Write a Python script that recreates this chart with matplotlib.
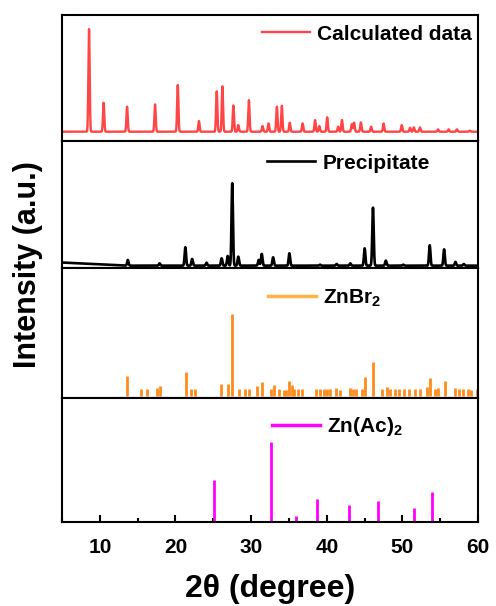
import matplotlib
matplotlib.use('Agg')
import matplotlib.pyplot as plt
from matplotlib.ticker import MultipleLocator
import numpy as np

plt.rcParams['font.family'] = ['Liberation Sans', 'DejaVu Sans']
plt.rcParams['font.weight'] = 'bold'
plt.rcParams['mathtext.fontset'] = 'custom'
plt.rcParams['mathtext.rm'] = 'Liberation Sans:bold'
plt.rcParams['mathtext.bf'] = 'Liberation Sans:bold'

# calculated pattern: peak positions (2theta) and relative intensities
calc_pos = [8.57, 10.5, 13.6, 17.3, 20.3, 23.1, 25.45, 26.2, 27.65, 28.3, 29.7,
            31.5, 32.3, 33.4, 34.05, 35.1, 36.8, 38.45, 39.0, 40.05, 41.5, 42.0,
            43.3, 43.6, 44.5, 45.85, 47.5, 49.9, 51.0, 51.5, 52.3, 54.7, 56.1,
            57.2, 58.9]
calc_int = [100, 28.2, 24.4, 26.6, 45.5, 10.4, 39.3, 44.2, 25.6, 6.5, 30.8,
            5.5, 8.1, 24.4, 25.3, 8.8, 8.1, 11.4, 5.5, 14.0, 4.9, 11.4,
            7.5, 8.8, 9.1, 4.9, 8.1, 6.5, 3.9, 4.2, 4.2, 2.3, 2.3,
            2.3, 1.0]

# measured precipitate: peaks plus a small low-angle background
prec_pos = [13.7, 17.9, 21.3, 22.2, 24.1, 26.1, 26.9, 27.5, 28.3, 31.0, 31.4,
            32.9, 35.05, 39.1, 41.3, 43.1, 45.0, 46.1, 47.8, 50.1, 53.6, 55.5,
            57.0, 58.1]
prec_int = [6.9, 2.8, 22.3, 8.1, 3.6, 8.9, 11.7, 100, 10.9, 6.9, 14.2,
            10.1, 15.0, 1.2, 2.0, 2.8, 21.0, 70.4, 6.1, 1.2, 24.7, 19.8,
            4.5, 2.0]
bg_x = [5, 9, 13.5, 60]
bg_y = [3.8, 2.0, 0.0, 0.0]

# ZnBr2 reference sticks
znbr_pos = [13.65, 15.5, 16.3, 17.5, 17.9, 21.35, 22.0, 22.6, 26.0, 26.9, 27.5,
            28.45, 29.2, 29.75, 30.8, 31.4, 32.6, 33.0, 33.7, 34.4, 34.6, 35.05,
            35.35, 35.6, 36.25, 36.7, 38.6, 39.05, 39.6, 40.0, 40.4, 41.2, 41.8,
            43.05, 43.4, 43.8, 44.6, 45.0, 46.15, 47.3, 47.9, 48.4, 49.0, 49.6,
            50.2, 50.8, 51.6, 52.3, 53.2, 53.6, 54.3, 54.7, 55.6, 56.9, 57.5,
            58.0, 58.6, 59.1, 59.8]
znbr_int = [24.5, 8.6, 8.6, 9.4, 12.2, 29.8, 8.6, 8.6, 14.3, 14.3, 100,
            9.0, 8.2, 8.2, 11.8, 17.2, 8.2, 13.1, 9.0, 7.8, 7.8, 18.0,
            13.1, 8.2, 8.2, 8.2, 8.2, 8.2, 9.0, 8.2, 8.2, 10.2, 7.8,
            9.8, 9.0, 9.0, 8.2, 23.3, 41.6, 9.0, 11.0, 9.0, 8.2, 9.0,
            8.2, 8.2, 8.2, 8.2, 11.0, 22.4, 9.0, 9.8, 18.4, 10.2, 9.0,
            9.0, 8.2, 7.8, 8.2]

# Zn(Ac)2 reference sticks
znac_pos = [25.1, 32.6, 35.9, 38.75, 42.9, 46.75, 51.5, 53.9]
znac_int = [52, 100, 6.3, 27.9, 20, 25.4, 16.7, 37.1]


def profile(x, pos, inten, width):
    y = np.zeros_like(x)
    for p, h in zip(pos, inten):
        y += h * np.exp(-0.5 * ((x - p) / width) ** 2)
    return y


tt = np.linspace(5, 60, 5501)
calc_y = profile(tt, calc_pos, calc_int, 0.085)
prec_y = profile(tt, prec_pos, prec_int, 0.095) + np.interp(tt, bg_x, bg_y)

fig, axs = plt.subplots(4, 1, sharex=True, figsize=(4.96, 6.06), dpi=100,
                        gridspec_kw={'height_ratios': [126, 127, 130, 124], 'hspace': 0})
fig.subplots_adjust(left=0.125, right=0.964, top=0.975, bottom=0.139)

axs[0].plot(tt, calc_y, color='#ff4545', lw=1.7, label='Calculated data')
axs[0].set_ylim(-9.1, 113.6)

axs[1].plot(tt, prec_y, color='black', lw=1.9, label='Precipitate')
axs[1].set_ylim(-2.8, 151.3)

axs[2].vlines(znbr_pos, 0, znbr_int, color='#ff8c1a', lw=2.0)
axs[2].plot([], [], color='#ffb347', lw=2.5, label=r'ZnBr$_{\bf 2}$')
axs[2].set_ylim(-2.4, 156.7)

axs[3].vlines(znac_pos, 0, znac_int, color='#ff00ff', lw=2.0)
axs[3].plot([], [], color='#ff00ff', lw=2.5, label=r'Zn(Ac)$_{\bf 2}$')
axs[3].set_ylim(-0.4, 154.6)

leg_anchor = [(0.48, 0.925), (0.493, 0.90), (0.495, 0.85), (0.505, 0.86)]
for ax, anc in zip(axs, leg_anchor):
    for sp in ax.spines.values():
        sp.set_linewidth(1.5)
    ax.set_yticks([])
    ax.tick_params(axis='x', which='both', bottom=False, top=False)
    ax.legend(loc='upper left', bbox_to_anchor=anc, frameon=False,
              fontsize=15, handlelength=2.3, handletextpad=0.35,
              borderpad=0, borderaxespad=0)

axs[3].set_xlim(5, 60)
axs[3].xaxis.set_major_locator(MultipleLocator(10))
axs[3].xaxis.set_minor_locator(MultipleLocator(5))
axs[3].tick_params(axis='x', which='major', bottom=True, direction='in',
                   length=5, width=1.5, labelsize=15, pad=12)
axs[3].tick_params(axis='x', which='minor', bottom=True, direction='in',
                   length=3, width=1.5)
axs[3].set_xlabel('2θ (degree)', fontsize=23, fontweight='bold', labelpad=12)

fig.text(0.057, 0.563, 'Intensity (a.u.)', rotation=90, fontsize=22,
         fontweight='bold', ha='center', va='center')

fig.savefig('out.png', dpi=100)
